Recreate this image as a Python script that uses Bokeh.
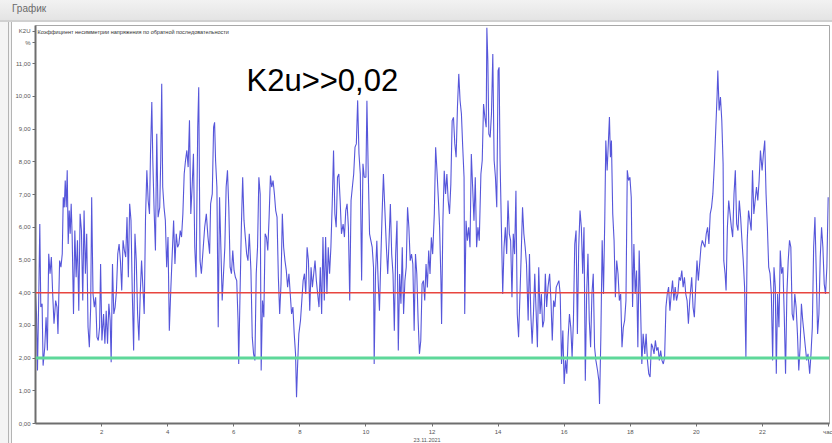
from bokeh.plotting import figure
from bokeh.models import Range1d, FixedTicker, Span, Label, Div
from bokeh.layouts import column, row
from bokeh.embed import file_html
from bokeh.resources import INLINE

# ---- data (hours of the day, K2U in %) ----
hours = [
    0.00, 0.03, 0.06, 0.10, 0.13, 0.16, 0.20, 0.23, 0.28, 0.32, 0.36, 0.40, 0.44, 0.48, 0.52, 0.56, 0.61, 0.65, 0.68, 0.73,
    0.77, 0.81, 0.84, 0.87, 0.90, 0.93, 0.96, 0.99, 1.02, 1.05, 1.08, 1.11, 1.15, 1.19, 1.23, 1.27, 1.31, 1.35, 1.39, 1.43,
    1.47, 1.51, 1.55, 1.59, 1.63, 1.67, 1.70, 1.74, 1.78, 1.82, 1.86, 1.90, 1.94, 1.97, 2.01, 2.06, 2.10, 2.14, 2.18, 2.22,
    2.26, 2.29, 2.33, 2.37, 2.41, 2.45, 2.49, 2.53, 2.57, 2.61, 2.65, 2.69, 2.73, 2.77, 2.81, 2.85, 2.89, 2.93, 2.97, 3.01,
    3.05, 3.09, 3.13, 3.17, 3.21, 3.25, 3.29, 3.33, 3.37, 3.41, 3.45, 3.48, 3.52, 3.55, 3.59, 3.63, 3.67, 3.71, 3.76, 3.79,
    3.82, 3.85, 3.89, 3.93, 3.97, 4.01, 4.05, 4.09, 4.13, 4.18, 4.22, 4.26, 4.30, 4.34, 4.38, 4.42, 4.46, 4.50, 4.54, 4.58,
    4.62, 4.66, 4.70, 4.74, 4.78, 4.82, 4.86, 4.91, 4.94, 4.98,
    5.02, 5.07, 5.12, 5.17, 5.22, 5.27, 5.30, 5.35, 5.39, 5.42, 5.45, 5.49, 5.53, 5.57, 5.61, 5.65, 5.69, 5.73, 5.77, 5.81,
    5.85, 5.89, 5.93, 5.97, 6.01, 6.05, 6.09, 6.13, 6.15, 6.19, 6.23, 6.27, 6.31, 6.35, 6.39, 6.43, 6.47, 6.52, 6.56, 6.60,
    6.64, 6.68, 6.72, 6.76, 6.80, 6.83, 6.87, 6.91, 6.95, 6.99, 7.03, 7.07, 7.11, 7.15, 7.19, 7.23, 7.27, 7.31, 7.35, 7.39,
    7.43, 7.47, 7.51, 7.55, 7.59, 7.63, 7.67, 7.71, 7.75, 7.79, 7.83, 7.87, 7.90, 7.93, 7.97, 8.02, 8.06, 8.10, 8.14, 8.18,
    8.22, 8.26, 8.30, 8.34, 8.38, 8.42, 8.46, 8.50, 8.54, 8.58, 8.62, 8.66, 8.70, 8.74, 8.78, 8.82, 8.86, 8.90, 8.94, 8.98,
    9.02, 9.06, 9.10, 9.14, 9.18, 9.22, 9.26, 9.31, 9.35, 9.39, 9.43, 9.47, 9.51, 9.55, 9.59, 9.63, 9.67, 9.71, 9.75, 9.79,
    9.83, 9.87, 9.91, 9.95,
    10.00, 10.03, 10.07, 10.11, 10.15, 10.19, 10.23, 10.25, 10.29, 10.33, 10.37, 10.41, 10.45, 10.49, 10.53, 10.57, 10.62,
    10.66, 10.70, 10.74, 10.78, 10.82, 10.86, 10.90, 10.94, 10.98, 11.02, 11.06, 11.10, 11.14, 11.18, 11.22, 11.26, 11.30,
    11.34, 11.38, 11.42, 11.46, 11.50, 11.54, 11.58, 11.62, 11.66, 11.70, 11.74, 11.78, 11.82, 11.86, 11.90, 11.94, 11.98,
    12.02, 12.07, 12.11, 12.15, 12.19, 12.23, 12.27, 12.29, 12.33, 12.37, 12.41, 12.45, 12.49, 12.53, 12.57, 12.61, 12.65,
    12.69, 12.73, 12.77, 12.81, 12.85, 12.89, 12.93, 12.97, 12.99, 13.03, 13.07, 13.11, 13.15, 13.19, 13.23, 13.27, 13.31,
    13.35, 13.39, 13.43, 13.48, 13.52, 13.56, 13.60, 13.64, 13.66, 13.69, 13.72, 13.76, 13.80, 13.84, 13.88, 13.92, 13.96,
    14.00, 14.03, 14.06, 14.10, 14.14, 14.18, 14.22, 14.26, 14.30, 14.34, 14.38, 14.42, 14.46, 14.50, 14.54, 14.58, 14.62,
    14.66, 14.70, 14.74, 14.78, 14.82, 14.86, 14.91, 14.95,
    14.99, 15.03, 15.07, 15.11, 15.15, 15.19, 15.23, 15.27, 15.31, 15.35, 15.39, 15.43, 15.47, 15.51, 15.56, 15.60, 15.64,
    15.68, 15.72, 15.76, 15.80, 15.84, 15.88, 15.92, 15.96, 16.00, 16.04, 16.08, 16.12, 16.16, 16.20, 16.24, 16.28, 16.32,
    16.36, 16.40, 16.44, 16.48, 16.52, 16.56, 16.60, 16.64, 16.68, 16.72, 16.76, 16.80, 16.84, 16.88, 16.92, 16.96, 17.01,
    17.05, 17.07, 17.11, 17.15, 17.19, 17.23, 17.26, 17.30, 17.34, 17.37, 17.40, 17.43, 17.47, 17.51, 17.55, 17.59, 17.63,
    17.67, 17.71, 17.75, 17.79, 17.83, 17.87, 17.91, 17.95, 17.99, 18.03, 18.07, 18.11, 18.15, 18.19, 18.23, 18.27, 18.31,
    18.35, 18.39, 18.44, 18.48, 18.52, 18.56, 18.60, 18.64, 18.68, 18.72, 18.76, 18.80, 18.84, 18.88, 18.92, 18.96, 19.00,
    19.04, 19.08, 19.12, 19.16, 19.20, 19.24, 19.28, 19.32, 19.36, 19.40, 19.44, 19.48, 19.52, 19.56, 19.60, 19.64, 19.68,
    19.72, 19.76, 19.80,
    19.86, 19.90, 19.94, 19.98, 20.02, 20.06, 20.10, 20.14, 20.18, 20.22, 20.26, 20.30, 20.34, 20.38, 20.42, 20.46, 20.50,
    20.55, 20.59, 20.63, 20.65, 20.69, 20.73, 20.77, 20.81, 20.83, 20.87, 20.90, 20.94, 20.98, 21.02, 21.06, 21.10, 21.14,
    21.18, 21.22, 21.26, 21.30, 21.34, 21.38, 21.42, 21.46, 21.50, 21.54, 21.58, 21.62, 21.66, 21.70, 21.74, 21.78, 21.82,
    21.86, 21.90, 21.94, 21.99, 22.03, 22.07, 22.11, 22.15, 22.19, 22.23, 22.27, 22.31, 22.35, 22.39, 22.42, 22.46, 22.50,
    22.54, 22.58, 22.62, 22.66, 22.70, 22.74, 22.78, 22.82, 22.86, 22.90, 22.94, 22.98, 23.02, 23.06, 23.10, 23.14, 23.18,
    23.22, 23.26, 23.30, 23.34, 23.38, 23.43, 23.47, 23.51, 23.55, 23.59, 23.63, 23.67, 23.71, 23.75, 23.79, 23.83, 23.87,
    23.91, 23.95, 23.99,
]

k2u = [
    3.90, 3.35, 1.62, 3.97, 6.10, 3.56, 3.66, 1.77, 2.33, 3.25, 2.23, 5.19, 4.58, 5.09, 3.97, 3.05, 3.76, 3.56, 2.74, 4.98,
    4.78, 5.19, 6.92, 6.61, 7.43, 6.61, 7.74, 5.49, 6.51, 5.80, 6.72, 5.70, 3.35, 5.90, 4.47, 5.60, 3.45, 6.41, 5.90, 3.76,
    6.51, 4.58, 5.80, 2.95, 2.33, 3.56, 6.92, 3.97, 3.56, 3.86, 2.64, 2.54, 2.95, 4.88, 2.54, 3.35, 2.44, 3.45, 2.44, 3.66,
    3.15, 1.87, 4.88, 3.35, 3.56, 4.07, 5.19, 5.49, 4.98, 4.07, 5.60, 5.29, 5.09, 6.31, 4.47, 6.72, 6.21, 3.97, 2.23, 5.80,
    4.98, 3.35, 2.54, 3.97, 4.98, 4.17, 3.35, 6.31, 7.74, 6.82, 6.41, 8.25, 9.83, 8.04, 6.51, 5.29, 8.86, 6.31, 6.61, 8.04,
    10.39, 7.23, 6.61, 6.21, 4.78, 5.70, 2.84, 3.97, 4.98, 6.21, 4.88, 5.80, 5.39, 5.49, 5.90, 5.70, 6.41, 7.63, 8.04, 8.35,
    7.84, 9.27, 6.41, 7.23, 8.25, 5.39, 4.47, 9.06, 10.28, 4.98,
    4.58, 5.29, 6.00, 6.41, 5.70, 5.19, 6.72, 7.02, 9.06, 9.21, 8.04, 7.23, 2.94, 6.92, 5.39, 3.76, 4.58, 5.39, 7.23, 7.74,
    6.61, 4.78, 4.58, 5.29, 4.68, 4.47, 4.37, 3.15, 1.82, 3.96, 6.00, 7.53, 6.21, 5.70, 5.19, 4.98, 5.80, 4.68, 2.64, 2.13,
    1.93, 4.58, 5.39, 7.53, 7.02, 1.62, 3.76, 3.25, 5.80, 5.70, 5.29, 6.31, 7.58, 7.23, 7.43, 7.02, 6.51, 6.31, 4.47, 3.35,
    4.27, 6.41, 5.39, 4.98, 4.68, 4.17, 4.58, 3.96, 3.35, 3.56, 2.74, 2.13, 0.80, 1.72, 2.74, 3.15, 3.76, 4.37, 4.58, 3.96,
    5.39, 4.98, 3.45, 4.78, 4.17, 4.58, 4.98, 4.37, 3.96, 3.56, 4.78, 3.35, 5.70, 3.76, 5.70, 3.96, 5.39, 4.58, 5.39, 6.72,
    8.35, 6.41, 6.00, 7.53, 7.63, 6.82, 5.80, 6.10, 5.70, 6.51, 6.72, 6.00, 3.76, 6.82, 7.23, 7.63, 8.45, 8.55, 9.88, 8.25,
    7.63, 4.37, 7.94, 7.53,
    7.53, 9.87, 7.73, 5.80, 5.59, 5.39, 4.78, 1.82, 4.57, 5.59, 4.37, 3.45, 4.98, 6.41, 7.63, 6.61, 5.39,
    4.57, 5.59, 6.71, 5.18, 4.57, 2.84, 5.18, 6.20, 2.23, 4.57, 3.66, 5.39, 3.35, 4.37, 4.78, 6.61, 6.00,
    4.98, 5.18, 4.88, 2.84, 5.18, 4.57, 3.15, 2.13, 2.53, 4.27, 4.37, 3.76, 4.88, 4.16, 5.29, 4.57, 5.69,
    5.18, 6.41, 8.45, 7.73, 6.92, 6.00, 4.37, 3.04, 6.20, 7.73, 7.02, 7.63, 6.82, 6.41, 7.32, 9.26, 9.36,
    8.55, 8.14, 9.67, 10.69, 9.87, 9.47, 8.45, 7.53, 3.35, 6.20, 5.59, 6.00, 5.39, 8.24, 7.22, 6.20, 7.53,
    5.39, 6.00, 5.59, 7.63, 8.04, 9.77, 9.36, 9.06, 12.10, 11.10, 8.85, 8.75, 9.47, 11.30, 8.04, 7.53, 6.61,
    10.79, 10.89, 8.04, 6.00, 3.96, 5.39, 6.00, 5.18, 6.82, 5.80, 5.59, 3.86, 5.80, 5.18, 7.12, 3.35, 2.64,
    3.86, 5.18, 6.61, 5.80, 5.39, 4.88, 3.15, 5.18,
    3.35, 2.44, 3.35, 4.58, 3.45, 2.33, 4.78, 3.35, 3.96, 2.94, 3.15, 4.58, 3.56, 4.17, 4.58, 3.76, 2.54,
    3.76, 3.56, 4.17, 4.27, 4.37, 3.96, 1.82, 2.84, 1.21, 1.93, 1.52, 2.64, 3.35, 2.94, 2.03, 3.15, 5.49,
    5.90, 2.74, 5.39, 6.51, 6.00, 4.58, 6.00, 1.31, 3.96, 5.19, 3.15, 2.33, 3.96, 4.58, 2.33, 1.93, 1.62,
    1.31, 0.60, 2.64, 5.60, 3.96, 6.31, 8.65, 7.74, 8.65, 9.37, 8.14, 8.65, 6.41, 5.60, 3.86, 4.98, 4.58,
    3.76, 3.96, 2.33, 2.94, 3.15, 3.76, 7.74, 7.43, 7.53, 6.92, 3.56, 5.49, 3.96, 4.68, 2.33, 5.29, 3.66,
    1.82, 2.74, 2.13, 2.74, 1.93, 1.52, 1.42, 2.44, 2.33, 2.13, 2.54, 2.23, 2.33, 1.93, 2.23, 1.93, 1.82,
    2.03, 3.56, 3.96, 4.17, 3.45, 3.96, 4.37, 3.76, 4.17, 3.76, 3.96, 4.47, 4.37, 4.68, 4.17, 4.47, 3.96,
    3.76, 3.05, 3.76,
    4.47, 3.56, 3.25, 4.17, 4.98, 4.37, 4.88, 5.39, 5.60, 5.49, 5.39, 5.80, 6.00, 5.49, 6.41, 6.61, 7.02,
    8.04, 9.06, 10.08, 10.79, 9.57, 9.98, 9.27, 7.94, 4.98, 4.58, 4.07, 6.00, 6.82, 6.41, 6.00, 5.70, 7.02,
    7.74, 6.10, 5.90, 6.82, 6.31, 5.60, 4.98, 4.17, 2.03, 5.60, 6.51, 6.21, 5.90, 7.74, 6.41, 6.82, 7.23,
    6.82, 7.43, 8.35, 7.74, 8.25, 8.65, 7.02, 6.00, 4.78, 4.58, 3.96, 1.93, 4.78, 4.17, 1.52, 3.96, 2.94,
    5.29, 4.58, 4.78, 3.35, 1.52, 3.96, 4.98, 5.60, 5.39, 3.35, 3.15, 3.96, 3.56, 2.74, 1.62, 2.33, 3.66,
    3.15, 2.74, 2.33, 1.93, 2.13, 1.52, 2.13, 2.94, 5.39, 6.31, 4.58, 2.74, 3.35, 5.09, 6.00, 5.39, 4.27,
    3.96, 4.78, 6.92,
]

upper_limit = 4.0
lower_limit = 2.0

# the axis caption "K2U, %" sits on the value axis above the last tick, as in the original window
y_ticks = [0, 1, 2, 3, 4, 5, 6, 7, 8, 9, 10, 11, 11.65, 12]
y_tick_labels = ["0,00", "1,00", "2,00", "3,00", "4,00", "5,00", "6,00", "7,00", "8,00", "9,00", "10,00", "11,00",
                 "%", "K2U"]
x_ticks = [2, 4, 6, 8, 10, 12, 14, 16, 18, 20, 22, 24]
x_tick_labels = ["2", "4", "6", "8", "10", "12", "14", "16", "18", "20", "22", "час"]

window_title = "График"
chart_title = "Коэффициент несимметрии напряжения по обратной последовательности"
note_text = "K2u>>0,02"
date_text = "23.11.2021"

# ---- window title bar ----
bar = Div(
    text=f'<span style="padding-left:12px">{window_title}</span>',
    width=832, height=22, margin=(0, 0, 0, 0),
    styles={"background": "linear-gradient(#f2f2f2, #e4e4e4)", "font-family": "Liberation Sans",
            "font-size": "10px", "color": "#6a6a6a", "line-height": "18px",
            "border-bottom": "2px solid #d0d0d0", "box-sizing": "border-box", "overflow": "hidden"},
)

# ---- left window edge ----
edge = Div(
    text="", width=12, height=421, margin=(0, 0, 0, 0),
    styles={"background": "#f4f4f4", "border-right": "4px double #b4b4b4", "box-sizing": "border-box"},
)

# ---- chart ----
p = figure(
    width=820, height=421, output_backend="svg", toolbar_location=None,
    x_range=Range1d(0, 24.03), y_range=Range1d(0, 12.17),
    min_border_left=22, min_border_right=3, min_border_top=3, min_border_bottom=20,
    background_fill_color="white", border_fill_color="white",
    outline_line_color="#a8a8a8", outline_line_width=1,
)
p.margin = (0, 0, 0, 0)
p.grid.visible = False

for ax in (p.xaxis[0], p.yaxis[0]):
    ax.axis_line_color = "#6e6e6e"
    ax.axis_line_width = 2
    ax.major_tick_line_color = "#6e6e6e"
    ax.major_tick_out = 3
    ax.major_tick_in = 0
    ax.minor_tick_line_color = None
    ax.major_label_text_font = "Liberation Sans"
    ax.major_label_text_font_size = "6px"
    ax.major_label_text_color = "#555555"
    ax.major_label_standoff = 2

p.yaxis[0].ticker = FixedTicker(ticks=y_ticks)
p.yaxis[0].major_label_overrides = {t: s for t, s in zip(y_ticks, y_tick_labels)}
p.xaxis[0].ticker = FixedTicker(ticks=x_ticks)
p.xaxis[0].major_label_overrides = {t: s for t, s in zip(x_ticks, x_tick_labels)}

p.add_layout(Span(location=upper_limit, dimension="width", line_color="#e8453f", line_width=1.5))
p.add_layout(Span(location=lower_limit, dimension="width", line_color="#5ed89a", line_width=3))

p.line(hours, k2u, line_color="#3838d4", line_width=1.1, line_alpha=0.85)

# texts inside the frame
p.add_layout(Label(x=2, y=392, x_units="screen", y_units="screen", text=chart_title,
                   text_font="Liberation Sans", text_font_size="5.5px", text_color="#333333",
                   text_baseline="middle"))
p.add_layout(Label(x=211, y=343, x_units="screen", y_units="screen", text=note_text,
                   text_font="Liberation Sans", text_font_size="31px", text_color="#000000",
                   text_baseline="alphabetic"))
# date under the time axis (placed in the lower side panel so it is not clipped)
p.add_layout(Label(x=378, y=0, x_units="screen", y_units="screen", text=date_text,
                   text_font="Liberation Sans", text_font_size="5.5px", text_color="#555555",
                   text_baseline="bottom"), "below")

layout = column(bar, row(edge, p, spacing=0), spacing=0)
layout.margin = (0, 0, 0, 0)

open("out.html", "w").write(file_html(layout, INLINE, title="График"))
